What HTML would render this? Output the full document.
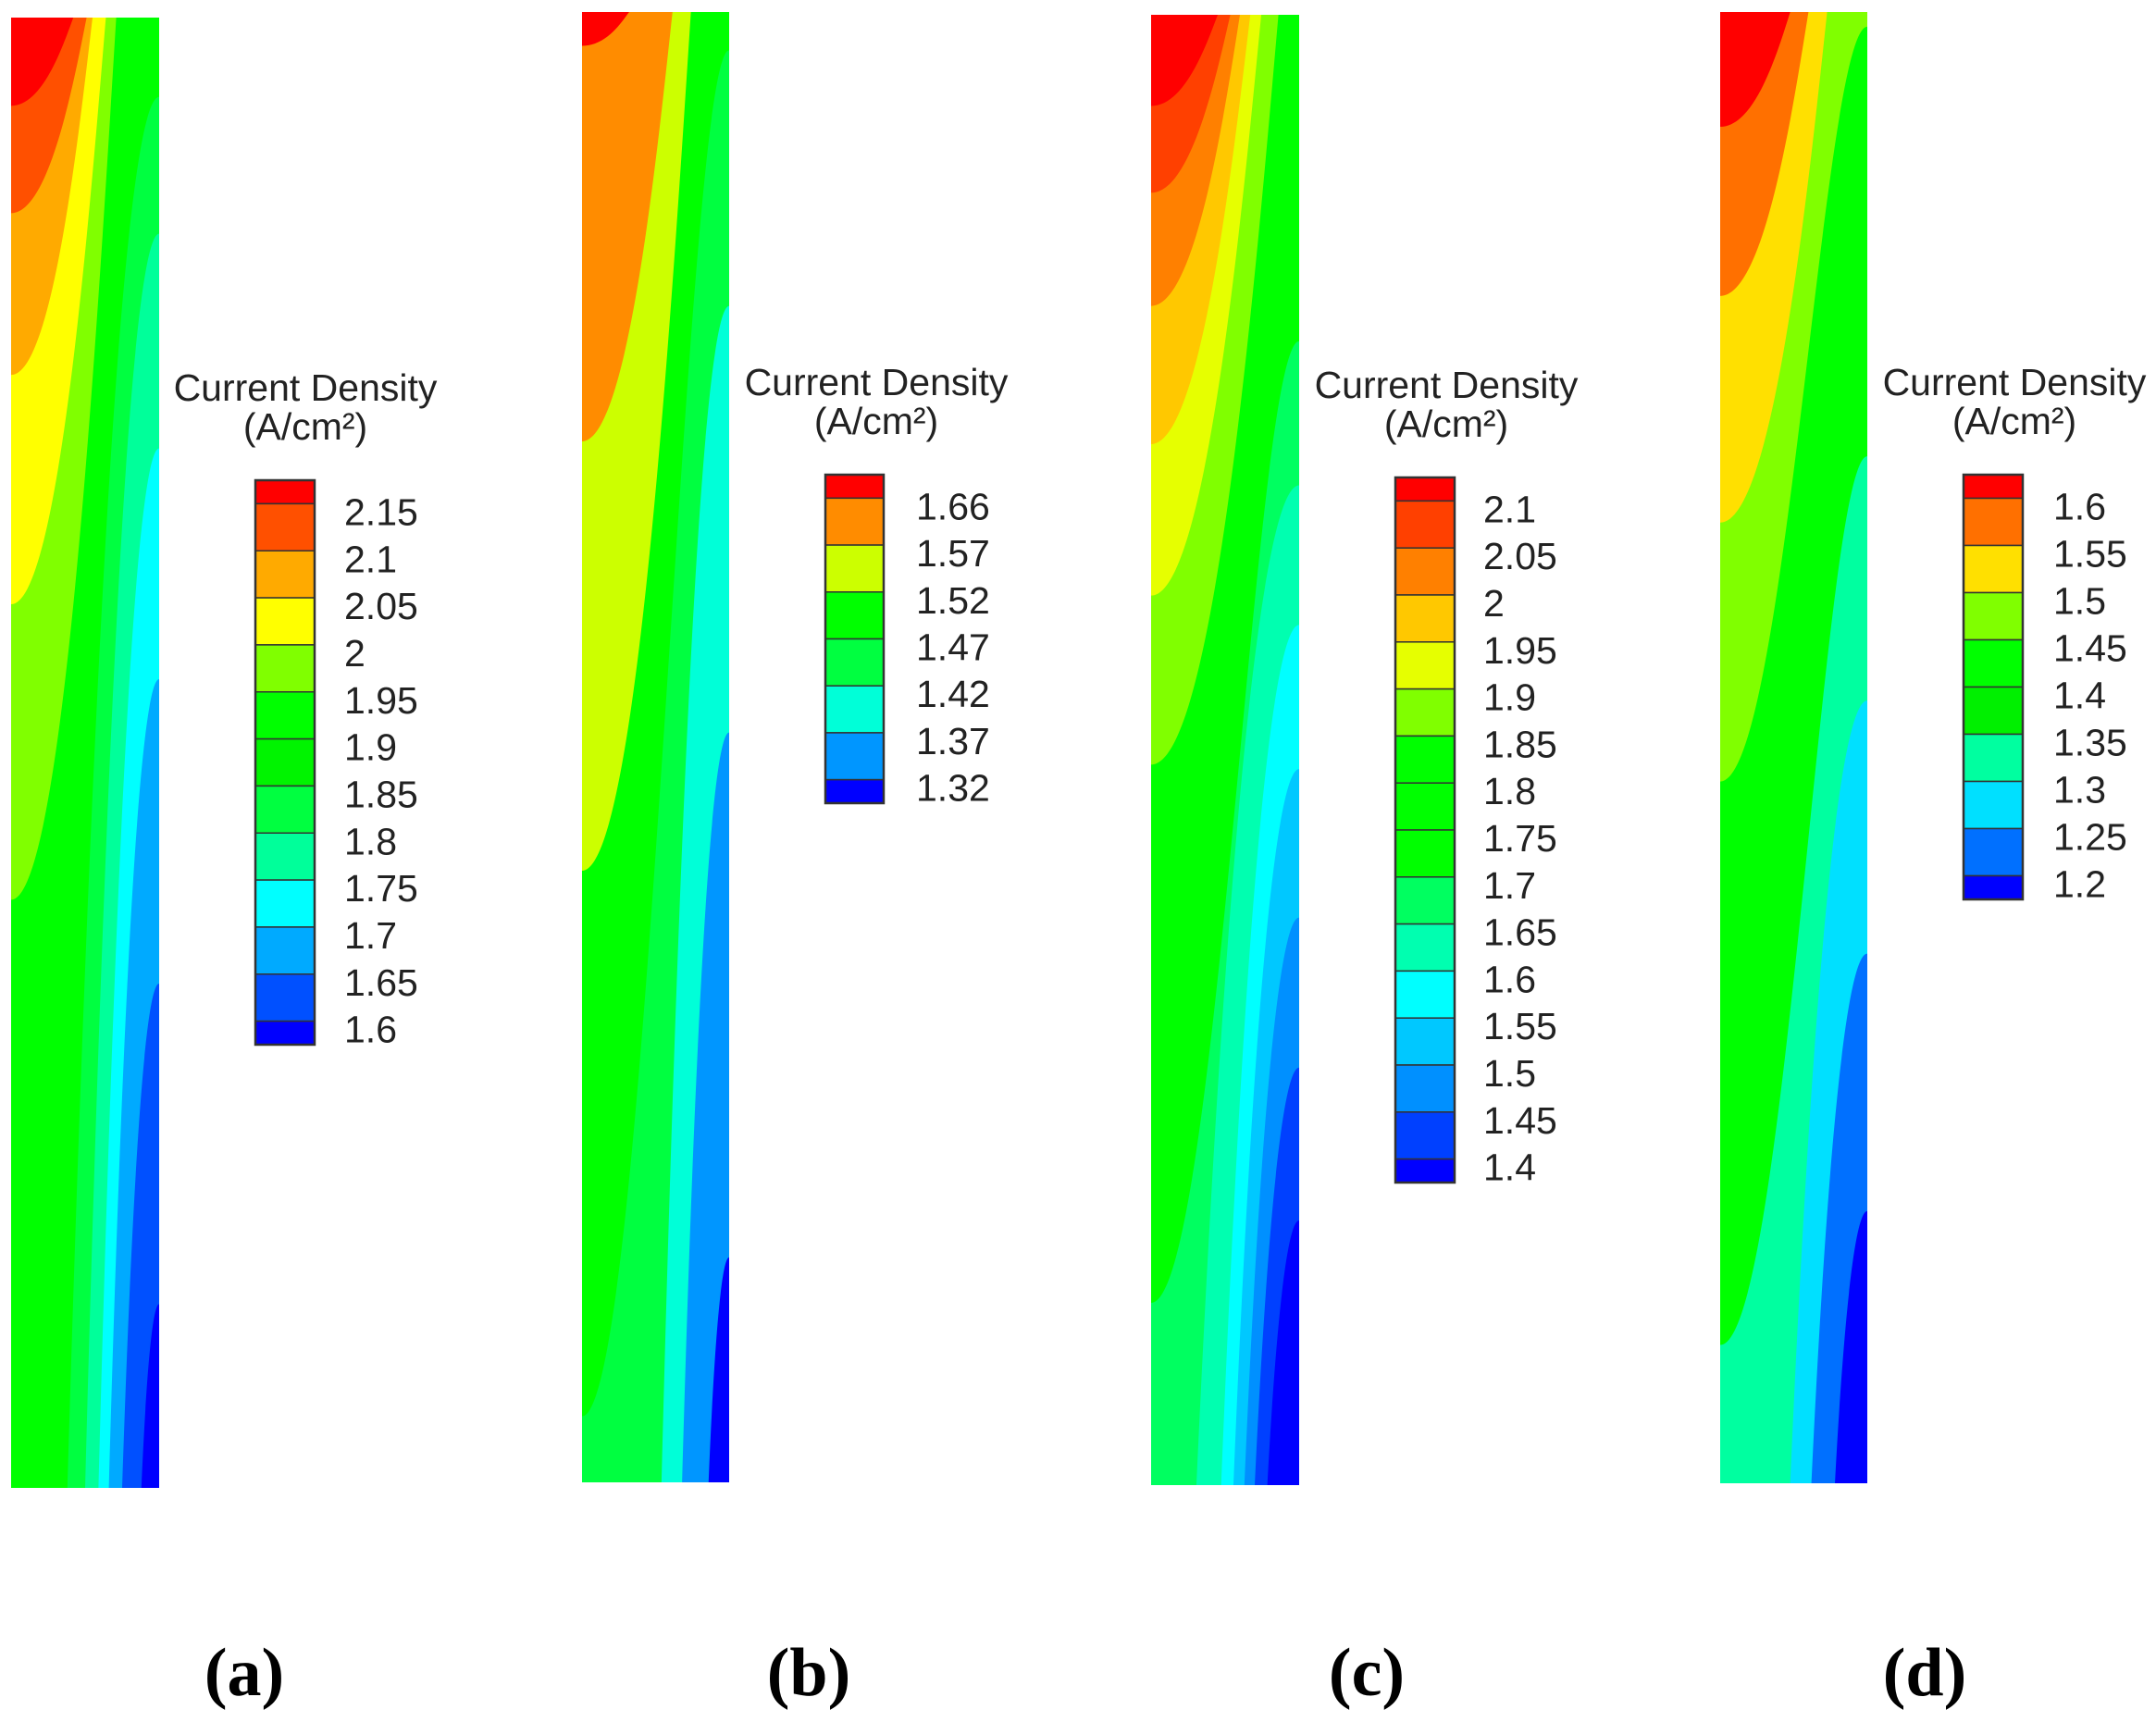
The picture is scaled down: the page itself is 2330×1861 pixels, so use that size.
<!DOCTYPE html>
<html><head><meta charset="utf-8">
<style>
html,body{margin:0;padding:0;background:#fff;}
svg{display:block;}
text{font-family:"Liberation Sans",sans-serif;fill:#222;}
</style></head>
<body>
<svg id="fig" width="2330" height="1861" viewBox="0 0 2330 1861" xmlns="http://www.w3.org/2000/svg"></svg>
<script>
const levelsA = [1.6,1.65,1.7,1.75,1.8,1.85,1.9,1.95,2,2.05,2.1,2.15];
const colorsA = ["#0000ff","#0050ff","#00aaff","#00ffff","#00ff9a","#00ff40","#00ff00","#00ff00","#80ff00","#ffff00","#ffaa00","#ff5000","#ff0000"];
const startsA = [[0.88,1],[0.75,1],[0.66,1],[0.59,1],[0.50,1],[0.38,1],[0.33,1],[0,0.60],[0,0.399],[0,0.243],[0,0.133],[0,0.06]];
const endsA   = [[1,0.875],[1,0.657],[1,0.45],[1,0.293],[1,0.147],[1,0.054],[1,0.02],[0.71,0],[0.64,0],[0.55,0],[0.51,0],[0.42,0]];

const levelsB = [1.32,1.37,1.42,1.47,1.52,1.57,1.66];
const colorsB = ["#0000ff","#0096ff","#00ffd8","#00ff40","#00ff00","#ccff00","#ff8c00","#ff0000"];
const startsB = [[0.86,1],[0.68,1],[0.54,1],[0,0.955],[0,0.584],[0,0.292],[0,0.023]];
const endsB   = [[1,0.847],[1,0.49],[1,0.2],[1,0.026],[0.74,0],[0.615,0],[0.32,0]];

const levelsC = [1.4,1.45,1.5,1.55,1.6,1.65,1.7,1.75,1.8,1.85,1.9,1.95,2,2.05,2.1];
const colorsC = ["#0000ff","#0040ff","#0090ff","#00c8ff","#00ffff","#00ffb0","#00ff60","#00ff00","#00ff00","#00ff00","#80ff00","#e6ff00","#ffc800","#ff8000","#ff4000","#ff0000"];
const startsC = [[0.785,1],[0.70,1],[0.63,1],[0.556,1],[0.473,1],[0.306,1],[0,0.876],[0,0.8],[0,0.7],[0,0.51],[0,0.395],[0,0.292],[0,0.198],[0,0.121],[0,0.062]];
const endsC   = [[1,0.82],[1,0.716],[1,0.614],[1,0.513],[1,0.415],[1,0.32],[1,0.222],[1,0.1],[0.95,0],[0.86,0],[0.744,0],[0.67,0],[0.60,0],[0.535,0],[0.45,0]];

const levelsD = [1.2,1.25,1.3,1.35,1.4,1.45,1.5,1.55,1.6];
const colorsD = ["#0000ff","#0070ff","#00e0ff","#00ffa0","#00ff00","#00ff00","#80ff00","#ffe000","#ff7000","#ff0000"];
const startsD = [[0.78,1],[0.62,1],[0.476,1],[0,0.906],[0,0.8],[0,0.523],[0,0.347],[0,0.193],[0,0.078]];
const endsD   = [[1,0.815],[1,0.64],[1,0.468],[1,0.302],[1,0.05],[1,0.01],[0.727,0],[0.60,0],[0.476,0]];

const labelsA = ["2.15","2.1","2.05","2","1.95","1.9","1.85","1.8","1.75","1.7","1.65","1.6"];
const labelsB = ["1.66","1.57","1.52","1.47","1.42","1.37","1.32"];
const labelsC = ["2.1","2.05","2","1.95","1.9","1.85","1.8","1.75","1.7","1.65","1.6","1.55","1.5","1.45","1.4"];
const labelsD = ["1.6","1.55","1.5","1.45","1.4","1.35","1.3","1.25","1.2"];
const captions = ["(a)","(b)","(c)","(d)"];

const NS="http://www.w3.org/2000/svg";
const svg=document.getElementById('fig');
function mk(tag,attrs,parent){const e=document.createElementNS(NS,tag);for(const k in attrs)e.setAttribute(k,attrs[k]);(parent||svg).appendChild(e);return e;}

const panels=[
 {id:"a",x0:12,x1:172,y0:19,y1:1608,levels:levelsA,colors:colorsA,starts:startsA,ends:endsA,labels:labelsA,
  tcx:330,t1:419,t2:461,bx:276,bw:64,by0:519,by1:1129,lx:372,cap:264},
 {id:"b",x0:629,x1:788,y0:13,y1:1602,levels:levelsB,colors:colorsB,starts:startsB,ends:endsB,labels:labelsB,
  tcx:947,t1:413,t2:455,bx:892,bw:63,by0:513,by1:868,lx:990,cap:874},
 {id:"c",x0:1244,x1:1404,y0:16,y1:1605,levels:levelsC,colors:colorsC,starts:startsC,ends:endsC,labels:labelsC,
  tcx:1563,t1:416,t2:458,bx:1508,bw:64,by0:516,by1:1278,lx:1603,cap:1477},
 {id:"d",x0:1859,x1:2018,y0:13,y1:1603,levels:levelsD,colors:colorsD,starts:startsD,ends:endsD,labels:labelsD,
  tcx:2177,t1:413,t2:455,bx:2122,bw:64,by0:513,by1:972,lx:2219,cap:2080}
];

panels.forEach(function(p,pi){
  const g=mk('g',{});
  
  
  const W=p.x1-p.x0,H=p.y1-p.y0;
  const X=u=>p.x0+u*W, Y=v=>p.y0+v*H;
  const clipId='clip'+p.id;
  const cp=mk('clipPath',{id:clipId},g);
  mk('rect',{x:p.x0,y:p.y0,width:W,height:H},cp);
  const field=mk('g',{'clip-path':'url(#'+clipId+')'},g);
  const base=mk('rect',{x:p.x0,y:p.y0,width:W,height:H,fill:p.colors[0]},field);
  
  
  p.levels.forEach(function(lv,i){
    const s=p.starts[i],e=p.ends[i];
    let c1,c2;
    if(s[0]===0 && e[1]===0){ c1=[0.5*e[0],s[1]]; c2=[0.82*e[0],0.35*s[1]]; }
    else if(s[0]===0){ c1=[0.45,s[1]]; c2=[0.7,e[1]]; }
    else { c1=[s[0]+0.2*(1-s[0]), e[1]+0.55*(1-e[1])]; c2=[s[0]+0.55*(1-s[0]), e[1]]; }
    let d='M'+X(s[0])+' '+Y(s[1])+' C'+X(c1[0])+' '+Y(c1[1])+' '+X(c2[0])+' '+Y(c2[1])+' '+X(e[0])+' '+Y(e[1]);
    if(e[0]===1) d+=' L'+X(1)+' '+Y(0);
    d+=' L'+X(0)+' '+Y(0);
    if(s[1]===1) d+=' L'+X(0)+' '+Y(1);
    d+=' Z';
    const path=mk('path',{d:d,fill:p.colors[i+1]},field);
    
    
  });
  const lg=mk('g',{},svg);
  
  
  const t1=mk('text',{x:p.tcx,y:p.t1+14,'font-size':41,'text-anchor':'middle'},lg);
  t1.textContent='Current Density';
  
  
  const t2=mk('text',{x:p.tcx,y:p.t2+14,'font-size':41,'text-anchor':'middle'},lg);
  t2.textContent='(A/cm²)';
  
  
  const n=p.labels.length;
  const unit=(p.by1-p.by0)/n;
  const nb=p.colors.length;
  const legendColors = p.id==="a" ? ["#0000ff","#0050ff","#00aaff","#00ffff","#00ff9a","#00ff40","#00f400","#00ff00","#80ff00","#ffff00","#ffaa00","#ff5000","#ff0000"] :
                       p.id==="d" ? ["#0000ff","#0070ff","#00e0ff","#00ffa0","#00f000","#00ff00","#80ff00","#ffe000","#ff7000","#ff0000"] : p.colors;
  for(let b=0;b<nb;b++){
    const top = b===0 ? p.by0 : p.by0+unit*(b-0.5);
    const bot = b===nb-1 ? p.by1 : p.by0+unit*(b+0.5);
    const r=mk('rect',{x:p.bx,y:top,width:p.bw,height:bot-top,fill:legendColors[nb-1-b],stroke:'#333','stroke-width':1.5},lg);
    
    
  }
  mk('rect',{x:p.bx,y:p.by0,width:p.bw,height:p.by1-p.by0,fill:'none',stroke:'#333','stroke-width':2.5},lg);
  p.labels.forEach(function(l,k){
    const yy=p.by0+unit*(k+0.5)+9;
    const t=mk('text',{x:p.lx,y:yy+14,'font-size':41},lg);
    t.textContent=l;
    
    
  });
  const cap=mk('text',{x:p.cap,y:1832,'font-size':74,'font-weight':'bold','text-anchor':'middle'},svg);
  cap.setAttribute('style','font-family:"Liberation Serif",serif;fill:#000');
  cap.textContent=captions[pi];
  
  
});
</script>
</body></html>
